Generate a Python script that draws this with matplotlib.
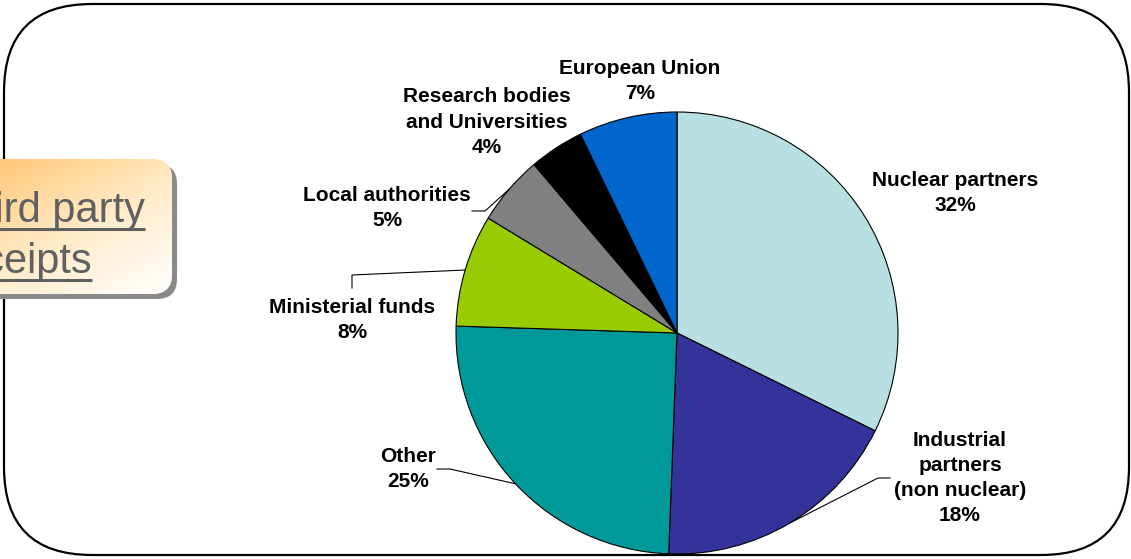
"""Third party receipts pie chart."""
import numpy
import matplotlib
matplotlib.use("Agg")
from matplotlib import pyplot
from matplotlib import patches, colors

# data
names = ["Nuclear partners", "Industrial\npartners\n(non nuclear)", "Other",
         "Ministerial funds", "Local authorities",
         "Research bodies\nand Universities", "European Union"]
shares = [32.3, 18.3, 24.9, 8.2, 5.1, 4.0, 7.2]
slice_colors = ["#B8DFE2", "#333399", "#009999", "#99CC00", "#808080",
                "#000000", "#0066CC"]

# label centres (pixels, image coords) and leader-line knees
label_xy = [(955, 193), (960, 478), (408, 469), (352, 320), (387, 208),
            (487, 122), (640, 81)]
leaders = {1: [(890, 478), (878, 478)], 2: [(437, 469), (450, 469)],
           3: [(352, 288), (352, 275)], 4: [(472, 211), (485, 211)]}

W, H = 1131, 559
Y = lambda y: H - y

fig = pyplot.figure(figsize=(W / 100, H / 100), dpi=100)
ax = fig.add_axes([0, 0, 1, 1])

cx, cy, rad = 677, Y(333), 221
wedges, _ = ax.pie(shares, colors=slice_colors, startangle=90, counterclock=False,
                   center=(cx, cy), radius=rad,
                   wedgeprops=dict(edgecolor="black", linewidth=0.8))

for i, (name, v) in enumerate(zip(names, shares)):
    x, y = label_xy[i]
    ax.text(x, Y(y), "{}\n{:.0f}%".format(name, v), ha="center", va="center",
            fontsize=15, fontweight="bold", family="Liberation Sans",
            linespacing=1.42, color="black")

for i, pts in leaders.items():
    w = wedges[i]
    mid = numpy.deg2rad(0.5 * (w.theta1 + w.theta2))
    ex, ey = cx + rad * numpy.cos(mid), cy + rad * numpy.sin(mid)
    xs = [p[0] for p in pts] + [ex]
    ys = [Y(p[1]) for p in pts] + [ey]
    ax.plot(xs, ys, color="black", lw=0.8)

# outer rounded frame
frame = patches.FancyBboxPatch((4, 4), 1125, 551,
                               boxstyle="round,pad=0,rounding_size=88",
                               fc="none", ec="black", lw=1.6)
ax.add_patch(frame)

# left callout box with gradient
bx, by, bw, bh = -100, Y(294), 272, 135
shadow = patches.FancyBboxPatch((bx + 5, by - 5), bw, bh,
                                boxstyle="round,pad=0,rounding_size=20",
                                fc="#8a8a8a", ec="none", zorder=2)
ax.add_patch(shadow)
box = patches.FancyBboxPatch((bx, by), bw, bh,
                             boxstyle="round,pad=0,rounding_size=20",
                             fc="white", ec="none", zorder=2.1)
ax.add_patch(box)
gx, gy = numpy.meshgrid(numpy.linspace(0, 1, 200), numpy.linspace(0, 1, 100))
grad = numpy.clip(0.4 * (1 - gx) + 0.6 * gy, 0, 1)  # 1 at top-left
cmap = colors.LinearSegmentedColormap.from_list("ob", ["#FFFFFF", "#FFEBC8", "#FFC877"])
im = ax.imshow(grad, cmap=cmap, extent=[0, bx + bw, by, by + bh], origin="lower",
               aspect="auto", vmin=0, vmax=1, zorder=2.2)
im.set_clip_path(box)

txts = []
for txt, base in [("Third party", 222), ("receipts", 273)]:
    t = ax.text(-54, Y(base), txt, ha="left", va="baseline", fontsize=30,
                family="Liberation Sans", color="#606060", zorder=3)
    txts.append((t, base))

ax.set_xlim(0, W)
ax.set_ylim(0, H)
ax.set_aspect("auto")
ax.axis("off")

# underline
fig.canvas.draw()
r = fig.canvas.get_renderer()
for t, base in txts:
    bb = t.get_window_extent(r)
    ax.plot([bb.x0, bb.x1], [Y(base + 7), Y(base + 7)], color="#606060", lw=2.2,
            solid_capstyle="butt", zorder=3)

pyplot.savefig("out.png", dpi=100)
